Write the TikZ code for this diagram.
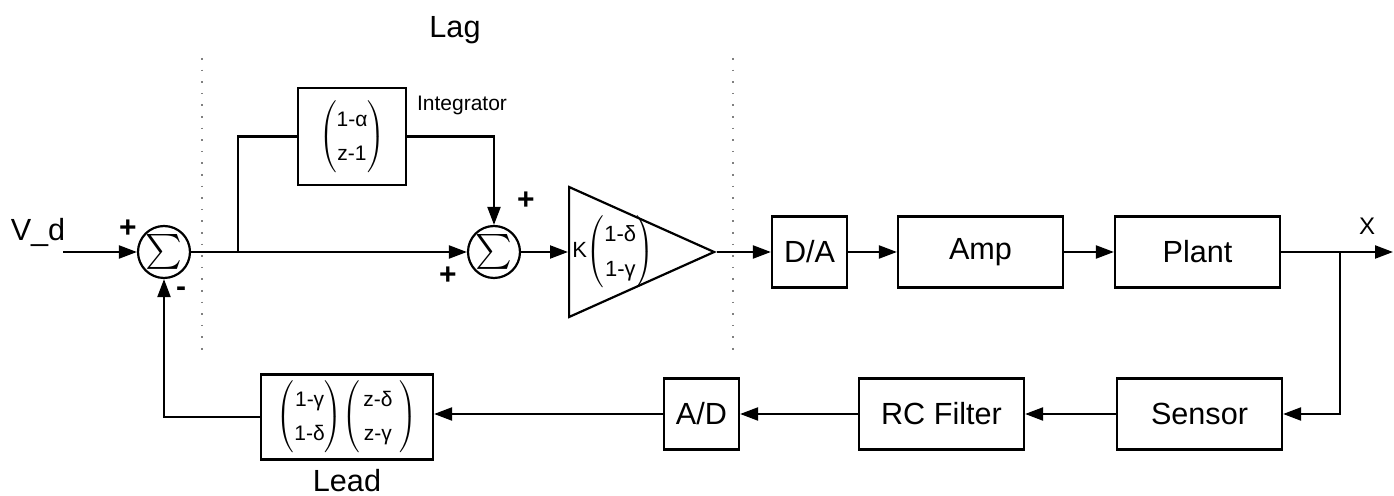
\documentclass[tikz,border=0pt]{standalone}
\usepackage{fontspec}
\setmainfont{Liberation Sans}
\usetikzlibrary{arrows.meta,positioning,shapes.geometric}
\newcommand{\pfrac}[2]{$\left(\vcenter{\hbox{\renewcommand{\arraystretch}{1.4}\begin{tabular}{@{}c@{}}#1\\#2\end{tabular}}}\right)$}
\newcommand{\sumsym}{\resizebox{!}{15pt}{$\sum$}}

\begin{document}
\begin{tikzpicture}[x=0.5pt,y=-0.5pt,font=\fontsize{15.3}{18}\selectfont,
  box/.style={draw,line width=1.1pt,minimum height=35.5pt,inner sep=0pt},
  wide/.style={box,minimum width=82.5pt},
  conv/.style={box,minimum width=37.5pt},
  sumnode/.style={draw,circle,line width=1.1pt,minimum size=26pt,inner sep=0pt},
  small/.style={font=\fontsize{10.5}{12}\selectfont},
  sgn/.style={font=\fontsize{15}{15}\selectfont\bfseries},
  arr/.style={-{Triangle[length=9pt,width=6.5pt]},line width=1.1pt},
  sep/.style={line width=0.7pt,gray,dash pattern=on 0.8pt off 5pt}]
\useasboundingbox (0,0) rectangle (1394,496);
% lag / lead separators
\draw[sep] (202,58) -- (202,355);
\draw[sep] (733,58) -- (733,355);
% forward path
\coordinate (vdin) at (63,252);
\node (vd) at (38,232) {V\_d};
\node[sumnode] (sum1) at (164,252) {\sumsym};
\coordinate (br1) at (238,252);
\node[box,minimum width=54pt,minimum height=48.5pt,small] (integ) at (352,136.5) {\pfrac{1-α}{z-1}};
\node[small,anchor=west] (intlbl) at (410,105) {Integrator};
\node[sumnode] (sum2) at (494,252) {\sumsym};
\node[draw,line width=1.1pt,isosceles triangle,isosceles triangle stretches,
  minimum width=65pt,minimum height=72.5pt,inner sep=0pt,anchor=west] (gain) at (568,252) {};
\node[font=\fontsize{11}{12.5}\selectfont] (gaintxt) at (613,252) {K\pfrac{1-δ}{1-γ}};
\node[conv] (da) at (809.5,252) {D/A};
\node[wide] (amp) at (980.5,252) {Amp};
\node[wide] (plant) at (1197.5,252) {Plant};
\coordinate (br2) at (1340,252);
\coordinate (xout) at (1393,252);
\node[font=\fontsize{12}{14}\selectfont] (xlbl) at (1367,226) {X};
% feedback path
\node[wide] (sensor) at (1199.5,414) {Sensor};
\node[wide] (rc) at (941.5,414) {RC Filter};
\node[conv] (ad) at (701.5,414) {A/D};
\node[box,minimum width=86pt,minimum height=42.5pt,small] (lead) at (347,417)
  {\pfrac{1-γ}{1-δ}\pfrac{\,z-δ\,\,}{\,z-γ\,\,}};
% labels and signs
\node (lag) at (455,30) {Lag};
\node (leadlbl) at (347,481) {Lead};
\node[sgn] (p1) at (128,229) {+};
\node[sgn] (m1) at (181,292) {-};
\node[sgn] (p2) at (526,201) {+};
\node[sgn] (p3) at (448,276) {+};
% connectors
\draw[arr] (vdin) -- (sum1.west);
\draw[arr] (sum1.east) -- (sum2.west);
\draw[line width=1.1pt] (br1) |- (integ.west);
\draw[arr] (integ.east) -| (sum2.north);
\draw[arr] (sum2.east) -- (gain.west);
\draw[arr] (gain.apex) -- (da.west);
\draw[arr] (da) -- (amp);
\draw[arr] (amp) -- (plant);
\draw[arr] (plant.east) -- (xout);
\draw[arr] (br2) |- (sensor.east);
\draw[arr] (sensor) -- (rc);
\draw[arr] (rc) -- (ad);
\draw[arr] (ad.west) -- (lead.east|-ad.west);
\draw[arr] (lead.west) -| (sum1.south);
\end{tikzpicture}
\end{document}
